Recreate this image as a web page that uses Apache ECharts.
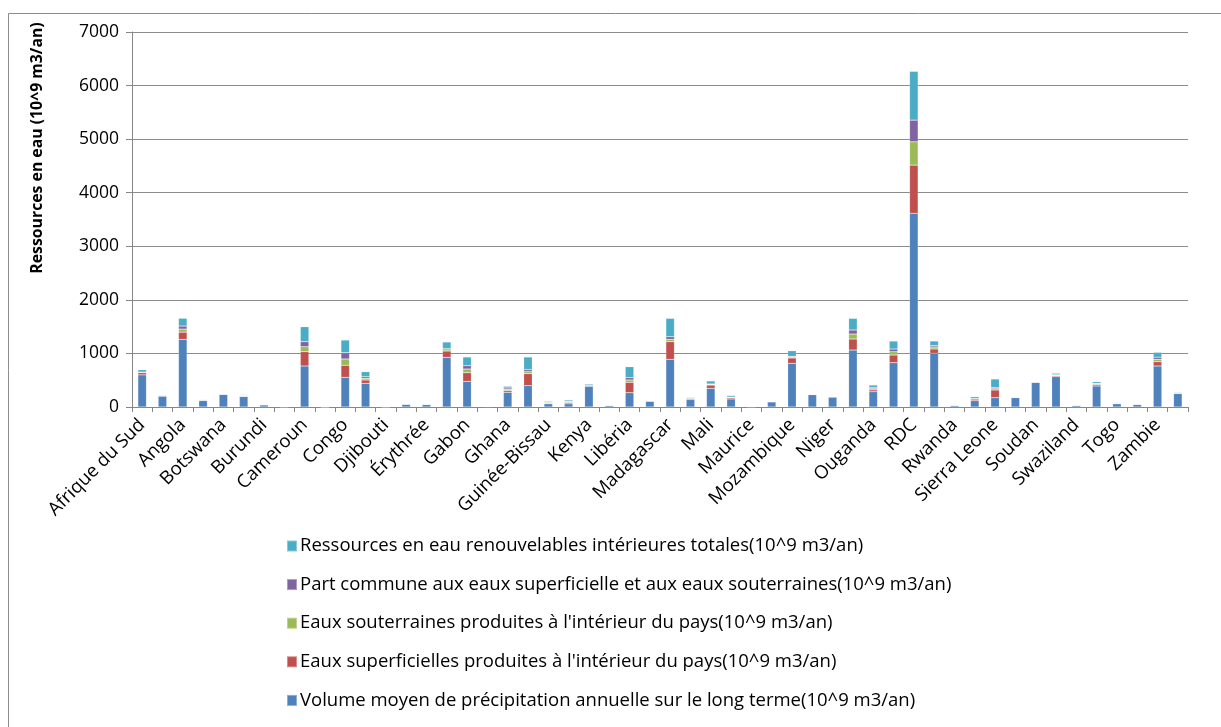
<!DOCTYPE html>
<html>
<head>
<meta charset="utf-8">
<script src="https://cdn.jsdelivr.net/npm/echarts@6/dist/echarts.min.js"></script>
<style>
  html, body { margin: 0; padding: 0; background: #ffffff; }
  #chart { width: 1221px; height: 727px; }
</style>
</head>
<body>
<div id="chart"></div>
<script>
// Ressources en eau par pays africain (10^9 m3/an)
const categories = [
  'Afrique du Sud', 'Algérie', 'Angola', 'Bénin', 'Botswana', 'Burkina Faso',
  'Burundi', 'Cabo Verde', 'Cameroun', 'Comores', 'Congo', "Côte d'Ivoire",
  'Djibouti', 'Égypte', 'Érythrée', 'Éthiopie', 'Gabon', 'Gambie',
  'Ghana', 'Guinée', 'Guinée-Bissau', 'Guinée équatoriale', 'Kenya', 'Lesotho',
  'Libéria', 'Libye', 'Madagascar', 'Malawi', 'Mali', 'Maroc',
  'Maurice', 'Mauritanie', 'Mozambique', 'Namibie', 'Niger', 'Nigéria',
  'Ouganda', 'RCA', 'RDC', 'République-Unie de Tanzanie', 'Rwanda', 'Sénégal',
  'Sierra Leone', 'Somalie', 'Soudan', 'Soudan du Sud', 'Swaziland', 'Tchad',
  'Togo', 'Tunisie', 'Zambie', 'Zimbabwe'
];

// Volume moyen de précipitation annuelle sur le long terme
const precipitation = [
  600, 202, 1262, 121, 236, 196,
  38, 6, 765, 3, 554, 442,
  5, 52, 47, 927, 479, 8,
  274, 397, 60, 60, 385, 26,
  267, 110, 890, 140, 349, 150,
  4, 98, 815, 230, 187, 1063,
  285, 826, 3615, 1002, 25, 118,
  174, 174, 460, 565, 28, 392,
  60, 47, 765, 250
];

// Eaux superficielles produites à l'intérieur du pays
const surfaceWater = [
  43, 10, 135, 10, 0.8, 8,
  10, 0.2, 267, 0.2, 224, 62,
  0.3, 0.5, 2.8, 118, 161, 3,
  30, 224, 13, 25, 20, 5.2,
  194, 0.2, 328, 16, 61, 22,
  2.4, 0.1, 100, 4.1, 1, 206,
  35, 144, 900, 81, 9.5, 30,
  143, 5.7, 2, 20, 2.6, 28,
  10, 3.1, 80, 11
];

// Eaux souterraines produites à l'intérieur du pays
const groundwater = [
  5, 1.5, 57, 1.8, 1.7, 9.5,
  2, 0.1, 93, 1, 118, 33,
  0.02, 1.3, 0.5, 22, 69, 0.5,
  26, 40, 14, 10, 3.5, 0.5,
  43, 0.6, 45, 2, 10, 10,
  0.9, 0.3, 17, 2.1, 2.5, 93,
  23, 62, 435, 37, 7, 6,
  25, 3.3, 3, 10, 0.7, 12,
  5, 1.5, 45, 6
];

// Part commune aux eaux superficielle et aux eaux souterraines
const overlap = [
  3, 0.2, 57, 1.5, 0.1, 5,
  2, 0, 93, 0, 117, 29,
  0, 0, 0.5, 22, 62, 0.5,
  25, 38, 10, 9, 3, 0.5,
  43, 0.1, 49, 2, 10, 3,
  0.5, 0, 14, 0, 0, 75,
  23, 50, 405, 25, 7, 4,
  18, 3, 1, 8, 0.6, 8,
  4, 0.4, 40, 5
];

// Ressources en eau renouvelables intérieures totales
const totalRenewable = [
  44, 11.2, 145, 10.3, 2.4, 12.5,
  10, 0.3, 280, 1.2, 237, 93,
  0.3, 1.8, 2.8, 124, 162, 3,
  31, 234, 16, 26, 20.7, 5.2,
  205, 0.7, 342, 16, 56, 29,
  2.8, 0.4, 104, 6.2, 3.5, 217,
  44, 149, 910, 87, 9.5, 34,
  162, 6, 4, 26, 2.6, 32,
  11, 4.2, 90, 12.3
];

const seriesNames = [
  'Volume moyen de précipitation annuelle sur le long terme(10^9 m3/an)',
  "Eaux superficielles produites à l'intérieur du pays(10^9 m3/an)",
  "Eaux souterraines produites à l'intérieur du pays(10^9 m3/an)",
  'Part commune aux eaux superficielle et aux eaux souterraines(10^9 m3/an)',
  'Ressources en eau renouvelables intérieures totales(10^9 m3/an)'
];
const seriesColors = ['#4F81BD', '#C0504D', '#9BBB59', '#8064A2', '#4BACC6'];
const seriesValues = [precipitation, surfaceWater, groundwater, overlap, totalRenewable];

const FONT = '"Open Sans", "Liberation Sans", sans-serif';
const chart = echarts.init(document.getElementById('chart'), null, { renderer: 'canvas' });

chart.setOption({
  animation: false,
  backgroundColor: '#ffffff',
  textStyle: { fontFamily: FONT, color: '#000' },
  grid: { left: 132, right: 33, top: 32, bottom: 320, containLabel: false },
  legend: {
    orient: 'vertical',
    left: 281,
    top: 530,
    itemWidth: 10,
    itemHeight: 11,
    itemGap: 16.6,
    icon: 'rect',
    selectedMode: false,
    data: seriesNames.slice().reverse(),
    textStyle: { fontFamily: FONT, fontSize: 18.5, color: '#000', lineHeight: 22, padding: [0, 0, 0, -2] }
  },
  xAxis: {
    type: 'category',
    data: categories,
    boundaryGap: true,
    axisLine: { lineStyle: { color: '#868686', width: 1 } },
    axisTick: { show: true, interval: 0, length: 5, lineStyle: { color: '#868686' } },
    axisLabel: { interval: 1, rotate: 45, margin: 15, fontSize: 18.5, color: '#000', fontFamily: FONT },
    splitLine: { show: false }
  },
  yAxis: {
    type: 'value',
    min: 0,
    max: 7000,
    interval: 1000,
    axisLine: { show: true, lineStyle: { color: '#868686', width: 1 } },
    axisTick: { show: true, length: 6, lineStyle: { color: '#868686' } },
    axisLabel: { margin: 13, fontSize: 17.5, color: '#000', fontFamily: FONT, formatter: (v) => String(v) },
    splitLine: { show: true, lineStyle: { color: '#8c8c8c', width: 1 } }
  },
  graphic: [
    {
      type: 'rect',
      silent: true,
      shape: { x: 8.5, y: 13.5, width: 1240, height: 740 },
      style: { fill: 'none', stroke: '#8c8c8c', lineWidth: 1 }
    },
    {
      type: 'text',
      silent: true,
      x: 37,
      y: 148,
      rotation: Math.PI / 2,
      style: {
        text: 'Ressources en eau (10^9 m3/an)',
        fontFamily: FONT,
        fontSize: 15.8,
        fontWeight: 'bold',
        fill: '#000',
        textAlign: 'center',
        textVerticalAlign: 'middle'
      }
    }
  ],
  series: seriesNames.map((name, i) => ({
    name: name,
    type: 'bar',
    stack: 'eau',
    barWidth: '42%',
    data: seriesValues[i],
    itemStyle: { color: seriesColors[i], borderColor: 'rgba(255,255,255,0.35)', borderWidth: 0.5 },
    emphasis: { disabled: true }
  }))
});
</script>
</body>
</html>
